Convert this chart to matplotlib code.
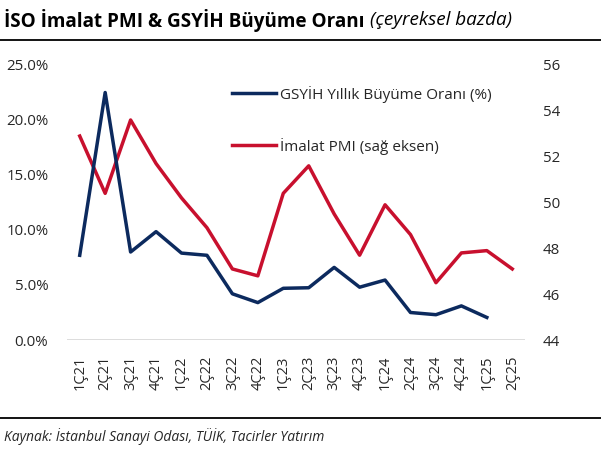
import numpy as np
import matplotlib
matplotlib.use("Agg")
import matplotlib.pyplot as plt
from matplotlib.lines import Line2D

plt.rcParams['font.family'] = ['Open Sans', 'DejaVu Sans']

quarters = ['1Ç21', '2Ç21', '3Ç21', '4Ç21', '1Ç22', '2Ç22', '3Ç22', '4Ç22', '1Ç23',
            '2Ç23', '3Ç23', '4Ç23', '1Ç24', '2Ç24', '3Ç24', '4Ç24', '1Ç25', '2Ç25']
gdp = [7.7, 22.5, 8.0, 9.85, 7.9, 7.7, 4.2, 3.4, 4.7,
       4.75, 6.6, 4.8, 5.45, 2.5, 2.3, 3.1, 2.05, np.nan]
pmi = [52.9, 50.4, 53.6, 51.7, 50.2, 48.9, 47.1, 46.8, 50.4,
       51.6, 49.5, 47.7, 49.9, 48.6, 46.5, 47.8, 47.9, 47.1]

navy = '#0c2a5e'
red = '#c8102e'
txt = '#262626'

fig = plt.figure(figsize=(6.01, 4.5), dpi=100)
ax = fig.add_axes([67/601, 1-340/450, (525-67)/601, 275/450])
ax2 = ax.twinx()

x = np.arange(len(quarters))
ax.plot(x, gdp, color=navy, lw=2.5, label='GSYİH Yıllık Büyüme Oranı (%)', zorder=3)
ax2.plot(x, pmi, color=red, lw=2.5, label='İmalat PMI (sağ eksen)')

ax.set_xlim(-0.5, len(quarters) - 0.5)
ax.set_ylim(0, 25)
ax2.set_ylim(44, 56)
ax.set_yticks(np.arange(0, 25.1, 5))
ax.set_yticklabels(['%.1f%%' % v for v in np.arange(0, 25.1, 5)])
ax2.set_yticks(np.arange(44, 56.1, 2))
ax.set_xticks(x)
ax.set_xticklabels(quarters, rotation=90)

for a in (ax, ax2):
    for s in a.spines.values():
        s.set_visible(False)
    a.tick_params(length=0, labelsize=10.8, colors=txt)
ax.tick_params(axis='y', pad=13.5)
ax2.tick_params(axis='y', pad=13)
ax.tick_params(axis='x', pad=11, labelsize=10.5)
ax.axhline(0, color='#d9d9d9', lw=2, zorder=1)

ax.set_zorder(ax2.get_zorder() + 1)
ax.patch.set_visible(False)

handles = [Line2D([], [], color=navy, lw=2.5), Line2D([], [], color=red, lw=2.5)]
ax.legend(handles, ['GSYİH Yıllık Büyüme Oranı (%)', 'İmalat PMI (sağ eksen)'],
          loc='upper left', bbox_to_anchor=(0.33, 0.975), frameon=False,
          fontsize=11, labelspacing=2.3, handlelength=2.9, handletextpad=0.25,
          labelcolor=txt)

# title
t1 = fig.text(4/601, 1-20/450, 'İSO İmalat PMI & GSYİH Büyüme Oranı', fontsize=13.6,
              fontweight='bold', color='black', va='center', ha='left')
fig.canvas.draw()
bb = t1.get_window_extent()
fig.text((bb.x1 + 6)/601, 1-20/450, '(çeyreksel bazda)', fontsize=13.6, style='italic',
         color='black', va='center', ha='left')

fig.add_artist(Line2D([0, 1], [1-40/450, 1-40/450], color='black', lw=1.3))
fig.add_artist(Line2D([0, 1], [1-418/450, 1-418/450], color='black', lw=1.3))
fig.text(4/601, 1-437/450, 'Kaynak: İstanbul Sanayi Odası, TÜİK, Tacirler Yatırım',
         fontsize=10, style='italic', color=txt, va='center', ha='left')

fig.savefig('out.png', dpi=100)
